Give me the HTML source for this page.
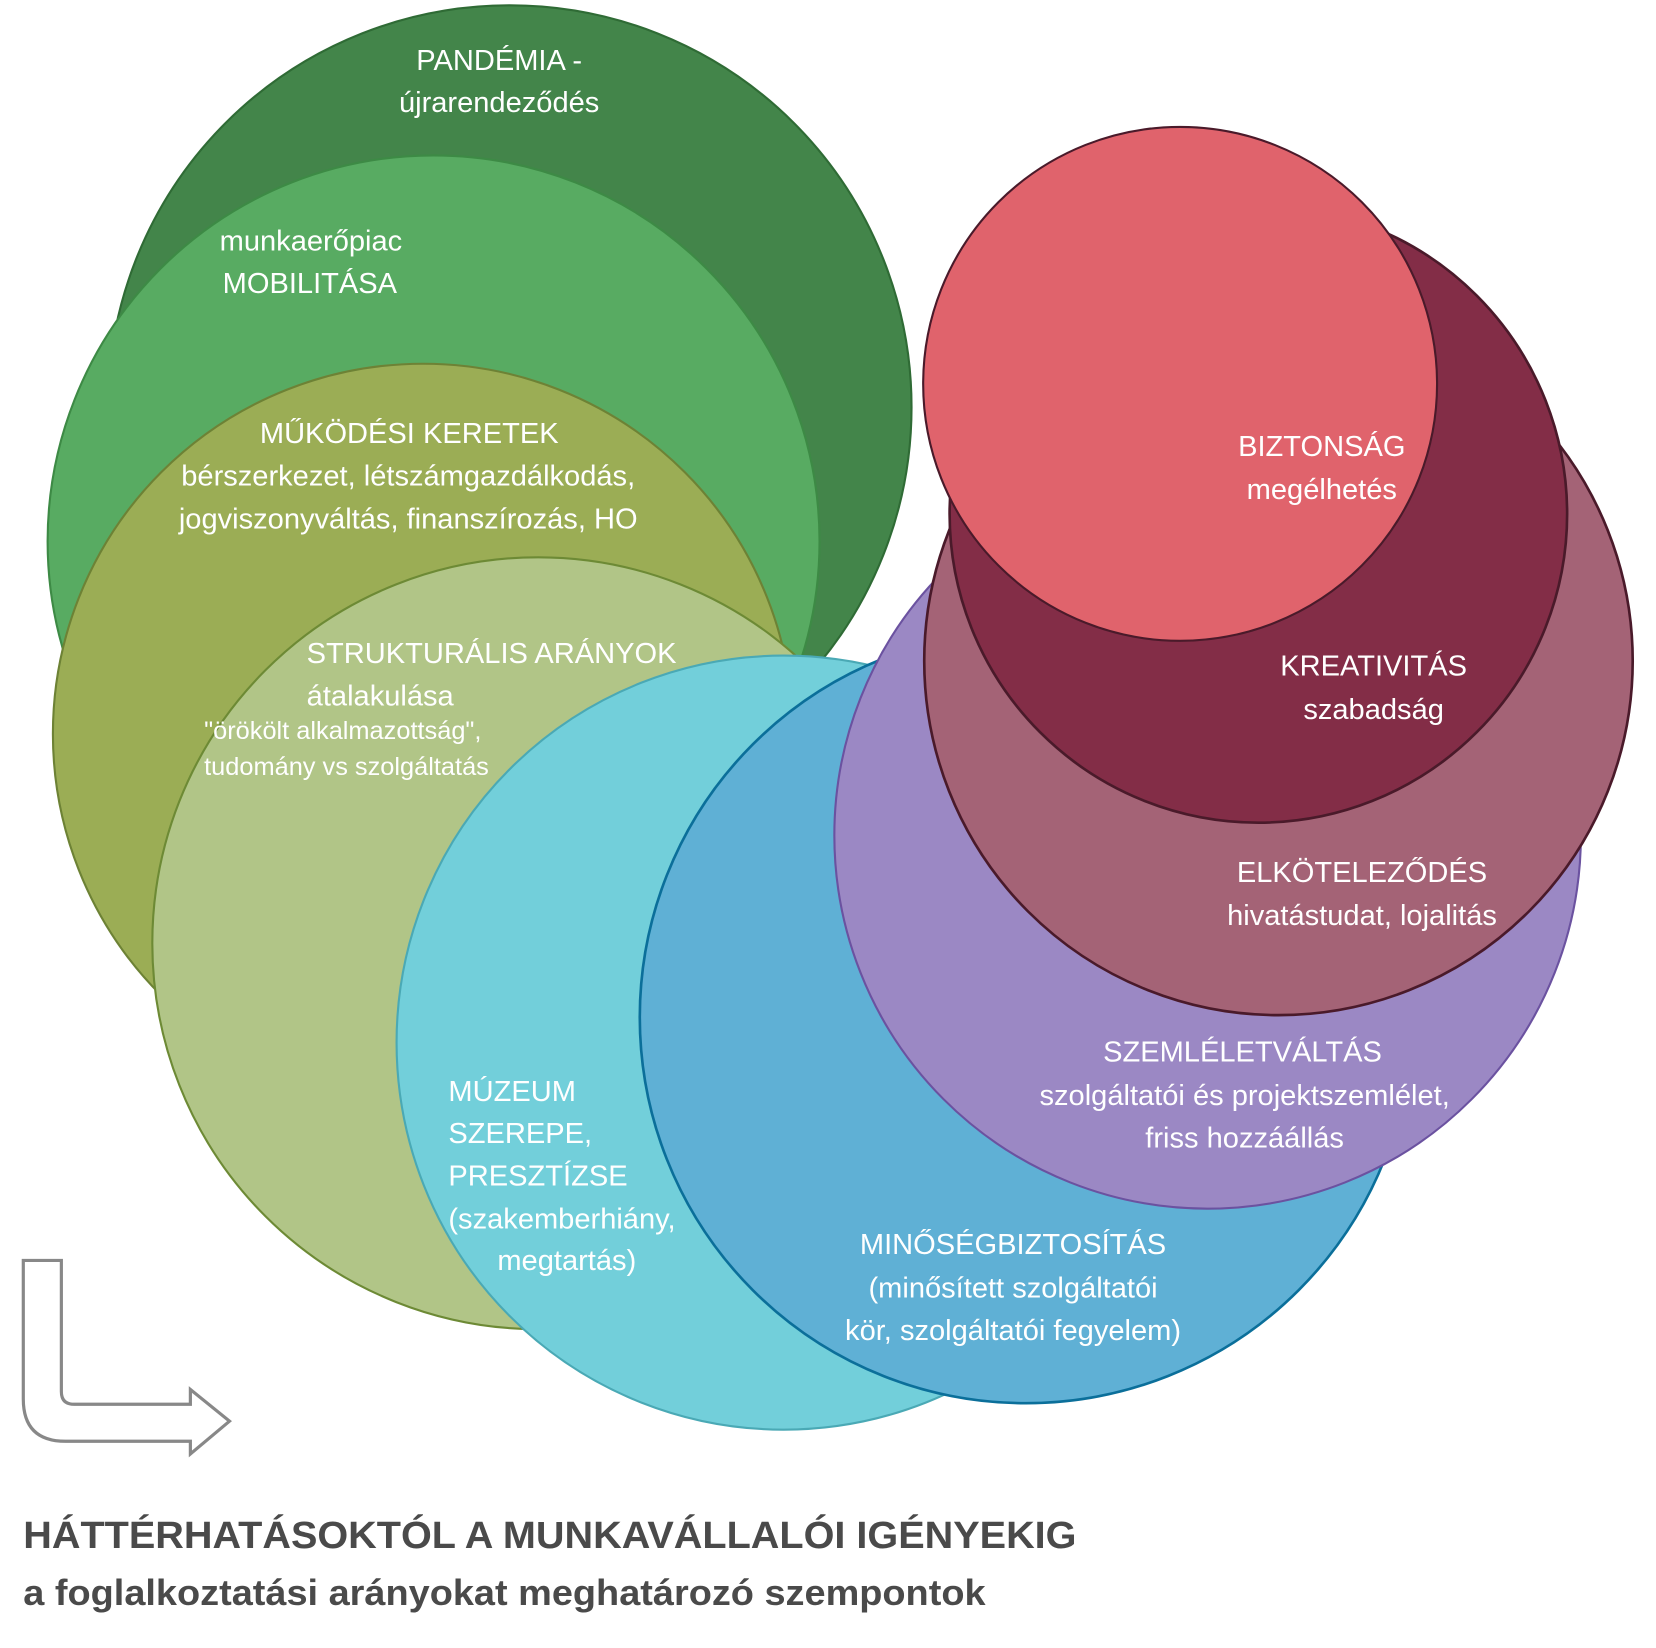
<!DOCTYPE html>
<html><head><meta charset="utf-8"><style>html,body{margin:0;padding:0;background:#fff}svg{display:block}text{font-family:"Liberation Sans",sans-serif;fill:#fff;font-size:27.5px}</style></head>
<body>
<svg width="1656" height="1648" viewBox="0 0 1566 1558.5" xmlns="http://www.w3.org/2000/svg">
<circle cx="482" cy="385" r="380" fill="#43854a" stroke="#2f6b35" stroke-width="2"/>
<circle cx="410" cy="512" r="365" fill="#58ab62" stroke="#3d8a45" stroke-width="2"/>
<circle cx="400" cy="694" r="350" fill="#9bad55" stroke="#6d8235" stroke-width="2"/>
<circle cx="509" cy="892" r="365" fill="#b1c587" stroke="#6d8a35" stroke-width="2"/>
<circle cx="741" cy="986" r="366" fill="#72cfda" stroke="#4aa9b5" stroke-width="2"/>
<circle cx="970" cy="962" r="365" fill="#5fb0d5" stroke="#0b6f9a" stroke-width="2.5"/>
<circle cx="1142" cy="790" r="353" fill="#9b88c4" stroke="#6b52a0" stroke-width="2"/>
<circle cx="1209" cy="625" r="335" fill="#a46376" stroke="#4a1a2a" stroke-width="2.5"/>
<circle cx="1190" cy="486" r="292" fill="#832d47" stroke="#4a1a2a" stroke-width="2.5"/>
<circle cx="1116" cy="363" r="243" fill="#e0636c" stroke="#4a1a2a" stroke-width="2"/>

<path d="M22,1192 L58,1192 L58,1316 Q58,1328 70,1328 L180,1328 L180,1314 L217,1344 L180,1375 L180,1363 L62,1363 Q22,1363 22,1323 Z" fill="#fff" stroke="#888" stroke-width="3"/>

<g text-anchor="middle">
<text x="472" y="66">PANDÉMIA -</text>
<text x="472" y="106">újrarendeződés</text>
<text x="294" y="237">munkaerőpiac</text>
<text x="293" y="277">MOBILITÁSA</text>
<text x="387" y="419">MŰKÖDÉSI KERETEK</text>
<text x="386" y="459">bérszerkezet, létszámgazdálkodás,</text>
<text x="386" y="500">jogviszonyváltás, finanszírozás, HO</text>
<text x="536" y="1201">megtartás)</text>
<text x="958" y="1186">MINŐSÉGBIZTOSÍTÁS</text>
<text x="958" y="1227">(minősített szolgáltatói</text>
<text x="958" y="1267">kör, szolgáltatói fegyelem)</text>
<text x="1175" y="1004">SZEMLÉLETVÁLTÁS</text>
<text x="1177" y="1045">szolgáltatói és projektszemlélet,</text>
<text x="1177" y="1085">friss hozzáállás</text>
<text x="1288" y="834">ELKÖTELEZŐDÉS</text>
<text x="1288" y="875">hivatástudat,  lojalitás</text>
<text x="1299" y="639">KREATIVITÁS</text>
<text x="1299" y="680">szabadság</text>
<text x="1250" y="431">BIZTONSÁG</text>
<text x="1250" y="472">megélhetés</text>
</g>
<text x="290" y="627">STRUKTURÁLIS ARÁNYOK</text>
<text x="290" y="667">átalakulása</text>
<text x="193" y="699" style="font-size:24px">"örökölt alkalmazottság",</text>
<text x="193" y="733" style="font-size:24px">tudomány vs szolgáltatás</text>
<text x="424" y="1041">MÚZEUM</text>
<text x="424" y="1081">SZEREPE,</text>
<text x="424" y="1121">PRESZTÍZSE</text>
<text x="424" y="1162">(szakemberhiány,</text>

<text x="22" y="1464" style="fill:#4a4a4a;font-size:36px;font-weight:bold" textLength="996" lengthAdjust="spacingAndGlyphs">HÁTTÉRHATÁSOKTÓL A MUNKAVÁLLALÓI IGÉNYEKIG</text>
<text x="22" y="1518" style="fill:#4a4a4a;font-size:34px;font-weight:bold" textLength="910" lengthAdjust="spacingAndGlyphs">a foglalkoztatási arányokat meghatározó szempontok</text>
</svg>
</body></html>
